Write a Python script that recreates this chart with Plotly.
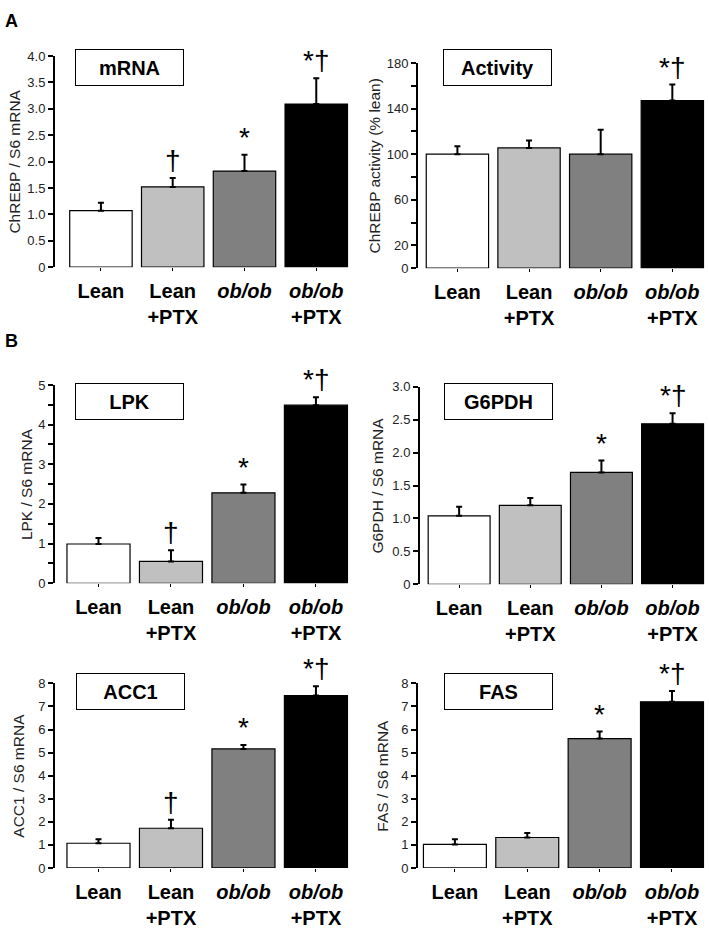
import plotly.graph_objects as go

# ---------------- data ----------------
categories = ["Lean", "Lean+PTX", "ob/ob", "ob/ob+PTX"]
category_labels = ["<b>Lean</b>", "<b>Lean<br>+PTX</b>", "<b><i>ob/ob</i></b>", "<b><i>ob/ob</i><br>+PTX</b>"]
bar_colors = ["#ffffff", "#c0c0c0", "#808080", "#000000"]

mrna_mean = [1.07, 1.52, 1.82, 3.09]
mrna_err = [0.15, 0.17, 0.31, 0.49]
mrna_sig = ["", "†", "*", "*†"]

activity_mean = [100, 105.5, 100, 147]
activity_err = [7, 6.5, 21.5, 14]
activity_sig = ["", "", "", "*†"]

lpk_mean = [0.99, 0.55, 2.28, 4.49]
lpk_err = [0.15, 0.28, 0.21, 0.20]
lpk_sig = ["", "†", "*", "*†"]

g6pdh_mean = [1.04, 1.20, 1.70, 2.44]
g6pdh_err = [0.14, 0.11, 0.18, 0.16]
g6pdh_sig = ["", "", "*", "*†"]

acc1_mean = [1.07, 1.72, 5.16, 7.47]
acc1_err = [0.17, 0.37, 0.17, 0.41]
acc1_sig = ["", "†", "*", "*†"]

fas_mean = [1.02, 1.32, 5.61, 7.20]
fas_err = [0.22, 0.20, 0.30, 0.47]
fas_sig = ["", "", "*", "*†"]

mrna_ticks = [0, 0.5, 1.0, 1.5, 2.0, 2.5, 3.0, 3.5, 4.0]
mrna_ticktext = ["0", "0.5", "1.0", "1.5", "2.0", "2.5", "3.0", "3.5", "4.0"]
activity_ticks = [0, 20, 40, 60, 80, 100, 120, 140, 160, 180]
activity_ticktext = ["0", "20", "", "60", "", "100", "", "140", "", "180"]
lpk_ticks = [0, 0.5, 1, 1.5, 2, 2.5, 3, 3.5, 4, 4.5, 5]
lpk_ticktext = ["0", "", "1", "", "2", "", "3", "", "4", "", "5"]
g6pdh_ticks = [0, 0.5, 1.0, 1.5, 2.0, 2.5, 3.0]
g6pdh_ticktext = ["0", "0.5", "1.0", "1.5", "2.0", "2.5", "3.0"]
acc1_ticks = [0, 1, 2, 3, 4, 5, 6, 7, 8]
acc1_ticktext = ["0", "1", "2", "3", "4", "5", "6", "7", "8"]
fas_ticks = [0, 1, 2, 3, 4, 5, 6, 7, 8]
fas_ticktext = ["0", "1", "2", "3", "4", "5", "6", "7", "8"]

# ---------------- layout helpers ----------------
W, H = 709, 929
FONT = "Liberation Sans, Arial, sans-serif"


def px_x(p):
    return p / W


def px_y(p):
    return 1 - p / H


panels = [
    dict(name="mRNA", mean=mrna_mean, err=mrna_err, sig=mrna_sig, ticks=mrna_ticks, tt=mrna_ticktext,
         ymax=4.0, ytitle="ChREBP / S6 mRNA", x=(55, 350), y=(50, 265), xr=-0.64, box=(129.5, 62), yt=15),
    dict(name="Activity", mean=activity_mean, err=activity_err, sig=activity_sig, ticks=activity_ticks,
         tt=activity_ticktext, ymax=180, ytitle="ChREBP activity (% lean)", x=(418, 706), y=(57, 266), xr=-0.55,
         box=(497.5, 62), yt=375),
    dict(name="LPK", mean=lpk_mean, err=lpk_err, sig=lpk_sig, ticks=lpk_ticks, tt=lpk_ticktext,
         ymax=5, ytitle="LPK / S6 mRNA", x=(55, 350), y=(385, 587), xr=-0.6, box=(129.5, 402), yt=26),
    dict(name="G6PDH", mean=g6pdh_mean, err=g6pdh_err, sig=g6pdh_sig, ticks=g6pdh_ticks, tt=g6pdh_ticktext,
         ymax=3.0, ytitle="G6PDH / S6 mRNA", x=(420, 706), y=(387, 588), xr=-0.55, box=(498.5, 402), yt=378),
    dict(name="ACC1", mean=acc1_mean, err=acc1_err, sig=acc1_sig, ticks=acc1_ticks, tt=acc1_ticktext,
         ymax=8, ytitle="ACC1 / S6 mRNA", x=(55, 350), y=(689, 877), xr=-0.6, box=(130, 697), yt=19),
    dict(name="FAS", mean=fas_mean, err=fas_err, sig=fas_sig, ticks=fas_ticks, tt=fas_ticktext,
         ymax=8, ytitle="FAS / S6 mRNA", x=(418, 706), y=(689, 877), xr=-0.51, box=(498.5, 697), yt=383),
]

fig = go.Figure()
annotations = []
layout_axes = {}

for i, p in enumerate(panels, start=1):
    xa = "x" if i == 1 else f"x{i}"
    ya = "y" if i == 1 else f"y{i}"
    fig.add_trace(go.Bar(
        x=categories, y=p["mean"], xaxis=xa, yaxis=ya, width=0.87,
        marker=dict(color=bar_colors, line=dict(color="black", width=1.2)),
        error_y=dict(type="data", symmetric=False, array=p["err"], arrayminus=[0] * len(p["err"]),
                     color="black", thickness=2, width=3),
        showlegend=False, hoverinfo="skip",
    ))
    xkey = "xaxis" if i == 1 else f"xaxis{i}"
    ykey = "yaxis" if i == 1 else f"yaxis{i}"
    layout_axes[xkey] = dict(
        domain=[px_x(p["x"][0]), px_x(p["x"][1])], anchor=ya, type="category",
        range=[p["xr"], 3.47], showline=False, showgrid=False, zeroline=False,
        ticks="outside", ticklen=3, tickcolor="black", tickwidth=1, ticklabelstandoff=3,
        tickvals=categories, ticktext=category_labels,
        tickfont=dict(family=FONT, size=20, color="black"),
        fixedrange=True,
    )
    layout_axes[ykey] = dict(
        domain=[px_y(p["y"][1]), px_y(p["y"][0])], anchor=xa, range=[0, p["ymax"]],
        showline=True, linecolor="black", linewidth=2, showgrid=False, zeroline=False,
        ticks="outside", ticklen=5, tickwidth=1.5, tickcolor="black",
        tickvals=p["ticks"], ticktext=p["tt"],
        tickfont=dict(family=FONT, size=13, color="#222"),
        fixedrange=True,
    )
    annotations.append(dict(
        xref="paper", yref="paper", x=px_x(p["box"][0]), y=px_y(p["box"][1]),
        text=f"<b>{p['name']}</b>", showarrow=False, xanchor="center", yanchor="middle",
        font=dict(family=FONT, size=20, color="black"),
        bordercolor="black", borderwidth=1, borderpad=1, bgcolor="white", width=105, height=33,
    ))
    annotations.append(dict(
        xref="paper", yref="paper", x=px_x(p["yt"]), y=px_y((p["y"][0] + p["y"][1]) / 2),
        text=p["ytitle"], textangle=-90, showarrow=False, xanchor="center", yanchor="middle",
        font=dict(family=FONT, size=15.5, color="#222"),
    ))
    for c, m, e, s in zip(categories, p["mean"], p["err"], p["sig"]):
        if s:
            annotations.append(dict(
                xref=xa, yref=ya, x=c, y=m + e, text=s, showarrow=False,
                xanchor="center", yanchor="bottom", yshift=0,
                font=dict(family=FONT, size=28, color="black"),
            ))

annotations.append(dict(xref="paper", yref="paper", x=px_x(3), y=px_y(2), text="<b>A</b>",
                        showarrow=False, xanchor="left", yanchor="top",
                        font=dict(family=FONT, size=18, color="black")))
annotations.append(dict(xref="paper", yref="paper", x=px_x(3), y=px_y(328), text="<b>B</b>",
                        showarrow=False, xanchor="left", yanchor="top",
                        font=dict(family=FONT, size=18, color="black")))

fig.update_layout(
    width=W, height=H, margin=dict(l=0, r=0, t=0, b=0),
    paper_bgcolor="white", plot_bgcolor="white",
    annotations=annotations, bargap=0.13,
    font=dict(family=FONT),
    **layout_axes,
)

fig.write_html("out.html", config={"displayModeBar": False},
               post_script="document.body.style.margin='0';document.body.style.overflow='hidden';")
